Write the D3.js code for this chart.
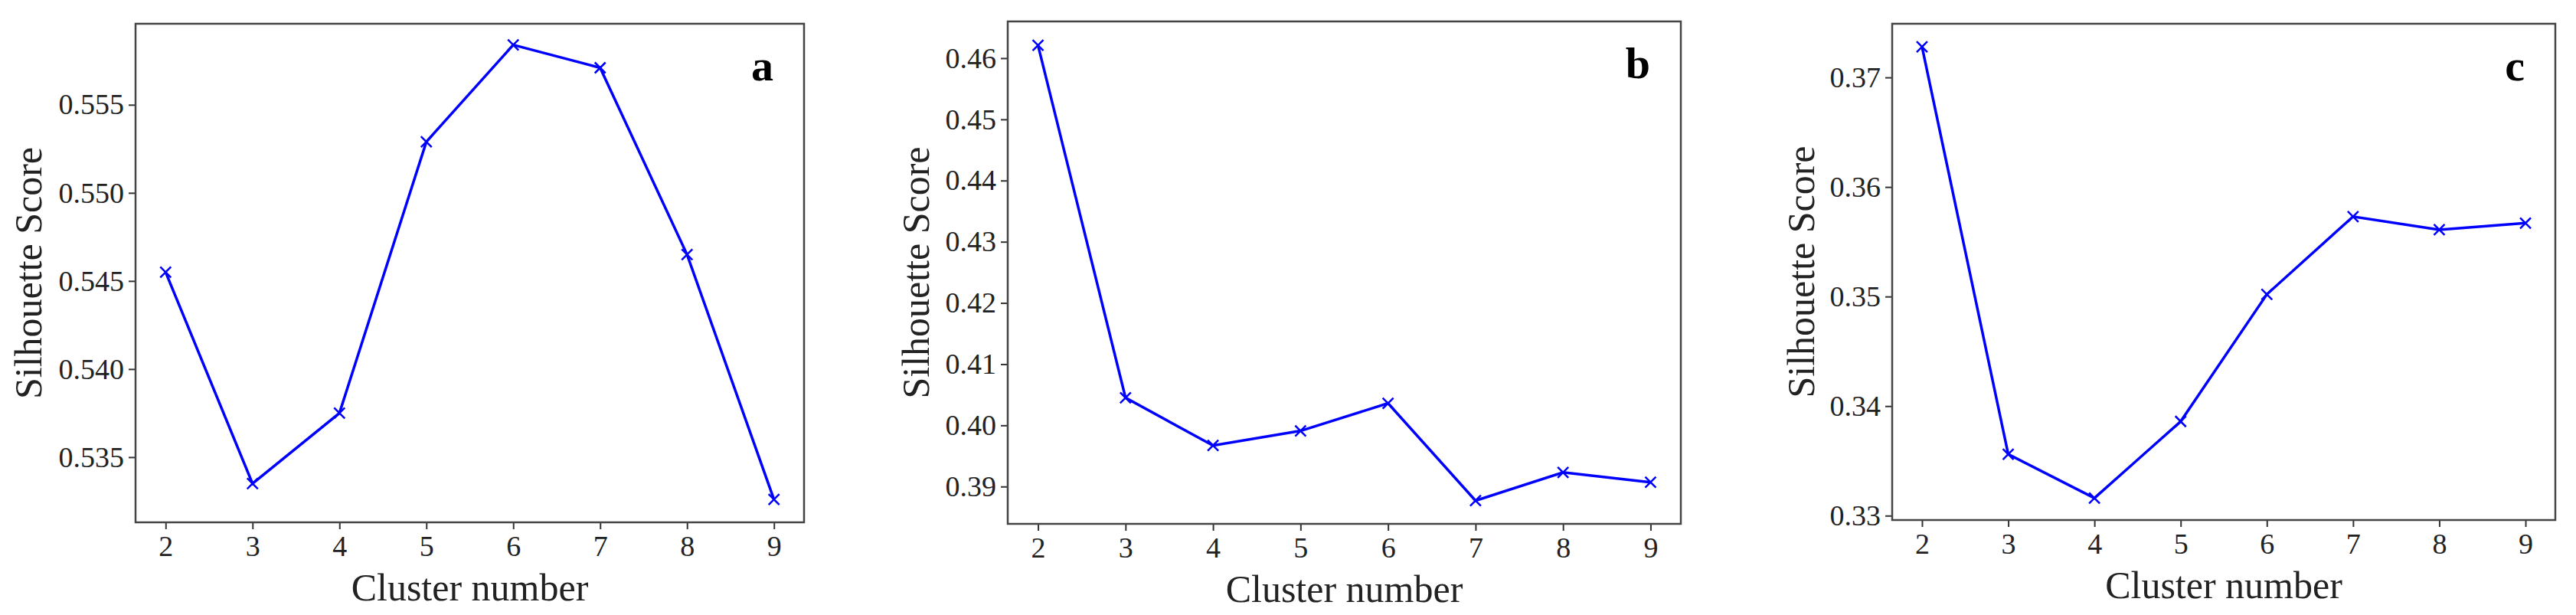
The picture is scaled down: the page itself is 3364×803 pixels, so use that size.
<!DOCTYPE html>
<html>
<head>
<meta charset="utf-8">
<script src="https://cdn.jsdelivr.net/npm/d3@7"></script>
<style>
  body { margin: 0; background: #fff; }
  text { font-family: "Liberation Serif", "Times New Roman", serif; fill: #222; }
</style>
</head>
<body>
<div id="chart"></div>
<script>
// Data
var clusters = [2, 3, 4, 5, 6, 7, 8, 9];
var scoresA = [0.5455, 0.5335, 0.5375, 0.5529, 0.5584, 0.5571, 0.5465, 0.5326];
var scoresB = [0.4621, 0.4045, 0.3967, 0.3991, 0.4036, 0.3877, 0.3923, 0.3907];
var scoresC = [0.3728, 0.3356, 0.3316, 0.3386, 0.3502, 0.3573, 0.3561, 0.3567];
var ticksA = [0.535, 0.540, 0.545, 0.550, 0.555];
var ticksB = [0.39, 0.40, 0.41, 0.42, 0.43, 0.44, 0.45, 0.46];
var ticksC = [0.33, 0.34, 0.35, 0.36, 0.37];

var panels = [
    { letter: "a", values: scoresA, ticks: ticksA, fmt: ".3f", yDom: [0.5313, 0.5596],
      left: 177, right: 1050, top: 31, bottom: 682, labelOff: 141 },
    { letter: "b", values: scoresB, ticks: ticksB, fmt: ".2f", yDom: [0.3839, 0.4660],
      left: 1316, right: 2195, top: 28, bottom: 684, labelOff: 121 },
    { letter: "c", values: scoresC, ticks: ticksC, fmt: ".2f", yDom: [0.3296, 0.3749],
      left: 2471, right: 3337, top: 31, bottom: 679, labelOff: 120 }
];

var svg = d3.select("#chart").append("svg")
    .attr("width", 3364)
    .attr("height", 803);

panels.forEach(function(p) {
    var w = p.right - p.left;
    var h = p.bottom - p.top;
    var g = svg.append("g").attr("transform", `translate(${p.left}, ${p.top})`);

    // x padding like matplotlib margins
    var pad = w * 0.045;
    var xScale = d3.scaleLinear().domain([2, 9]).range([pad, w - pad]);
    var yScale = d3.scaleLinear().domain(p.yDom).range([h, 0]);

    var xAxis = g.append("g")
        .attr("transform", `translate(0, ${h})`)
        .call(d3.axisBottom(xScale).tickValues(clusters).tickFormat(d3.format("d")).tickSize(9).tickPadding(8));
    var yAxis = g.append("g")
        .call(d3.axisLeft(yScale).tickValues(p.ticks).tickFormat(d3.format(p.fmt)).tickSize(9).tickPadding(6));
    [xAxis, yAxis].forEach(function(ax) {
        ax.select(".domain").remove();
        ax.selectAll("line").attr("stroke", "#333").attr("stroke-width", 2);
        ax.selectAll("text").style("font-size", "38px").style("font-family", "Liberation Serif").style("fill", "#222");
    });

    // frame
    g.append("rect")
        .attr("width", w).attr("height", h)
        .attr("fill", "none").attr("stroke", "#444").attr("stroke-width", 2.5);

    var line = d3.line()
        .x(function(d, i) { return xScale(clusters[i]); })
        .y(function(d) { return yScale(d); });

    g.append("path")
        .datum(p.values)
        .attr("d", line)
        .attr("fill", "none")
        .attr("stroke", "#0000ff")
        .attr("stroke-width", 3.5);

    // x markers
    var s = 7;
    g.selectAll(".mark")
        .data(p.values)
        .enter()
        .append("path")
        .attr("d", function(d, i) {
            var cx = xScale(clusters[i]), cy = yScale(d);
            return `M${cx - s},${cy - s}L${cx + s},${cy + s}M${cx - s},${cy + s}L${cx + s},${cy - s}`;
        })
        .attr("stroke", "#0000ff")
        .attr("stroke-width", 2.5);

    // panel letter
    g.append("text")
        .attr("x", w - 40)
        .attr("y", 74)
        .attr("text-anchor", "end")
        .style("font-size", "58px")
        .style("font-weight", "bold")
        .style("fill", "#000")
        .text(p.letter);

    // axis labels
    g.append("text")
        .attr("x", w / 2)
        .attr("y", h + 102)
        .attr("text-anchor", "middle")
        .style("font-size", "50px")
        .text("Cluster number");

    g.append("text")
        .attr("transform", "rotate(-90)")
        .attr("x", -h / 2)
        .attr("y", -p.labelOff + 18)
        .attr("text-anchor", "middle")
        .style("font-size", "50px")
        .text("Silhouette Score");
});
</script>
</body>
</html>
